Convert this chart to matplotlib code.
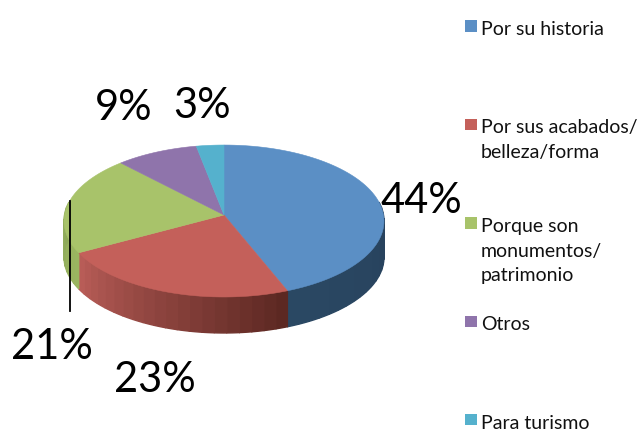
import numpy as np
import matplotlib
matplotlib.use("Agg")
import matplotlib.pyplot as plt
from matplotlib.patches import Polygon, Rectangle

categories = ["Por su historia", "Por sus acabados/\nbelleza/forma",
              "Porque son\nmonumentos/\npatrimonio", "Otros", "Para turismo"]
values = [44, 23, 21, 9, 3]
colors = ["#5b8fc5", "#c4605a", "#a8c36a", "#8f74ab", "#55b1cd"]
# side wall colours, (towards the left end, towards the right end) of each wedge
side_colors = [("#2a4863", "#27415c"), ("#b85c57", "#5c2822"), ("#8ea95a", "#9ab560"),
               ("#6f5a88", "#6f5a88"), ("#3f8ca3", "#3f8ca3")]

CX, CY = 224, 216
A, B, K = 159.5, 75.5, 0.079
DEPTH = 36

plt.rcParams['font.family'] = ['Lato', 'DejaVu Sans']


def rim(theta):
    # perspective view of the pie rim, theta clockwise from top in radians
    den = 1 + K * np.cos(theta)
    return CX + A * np.sin(theta) / den, CY - B * np.cos(theta) / den


def mix(c1, c2, t):
    a = np.array(matplotlib.colors.to_rgb(c1))
    b = np.array(matplotlib.colors.to_rgb(c2))
    return a + (b - a) * t


fig = plt.figure(figsize=(6.41, 4.31), dpi=100)
ax = fig.add_axes([0, 0, 1, 1])
ax.set_xlim(0, 641)
ax.set_ylim(431, 0)
ax.axis("off")

edges = np.cumsum([0] + values) / sum(values) * 2 * np.pi

# side wall, front half only
for i in range(len(values)):
    start = max(edges[i], np.radians(80))
    stop = min(edges[i + 1], np.radians(280))
    if stop <= start:
        continue
    n = max(2, int(np.degrees(stop - start) / 4))
    bands = np.linspace(start, stop, n + 1)
    for j in range(n):
        t = np.linspace(bands[j], bands[j + 1], 5)
        x, y = rim(t)
        pts = np.r_[np.c_[x, y], np.c_[x, y + DEPTH][::-1]]
        c = mix(side_colors[i][1], side_colors[i][0], j / max(1, n - 1))
        ax.add_patch(Polygon(pts, closed=True, fc=c, ec=c, lw=1.0, zorder=2))

# top face
for i in range(len(values)):
    t = np.linspace(edges[i], edges[i + 1], 80)
    x, y = rim(t)
    pts = np.r_[[[CX, CY]], np.c_[x, y]]
    ax.add_patch(Polygon(pts, closed=True, fc=colors[i], ec=colors[i], lw=0.4, zorder=3))

# data labels
label_pos = [(421, 201), (155, 380), (52, 347), (124, 108), (202, 106)]
for v, (lx, ly) in zip(values, label_pos):
    ax.text(lx, ly, "%d%%" % v, fontsize=30, color="black", ha="center", va="center", zorder=5)

# leader line of the 21% label
ax.plot([70, 70], [202, 312], color="black", lw=1.3, zorder=4)

# legend
for i, name in enumerate(categories):
    ly = 28 + i * 98.5
    ax.add_patch(Rectangle((465, ly - 7), 11.5, 11.5, fc=colors[i], ec="none", zorder=4))
    ax.text(481, ly - 7, name, fontsize=14, color="#111111", ha="left", va="top",
            linespacing=1.55, zorder=4)

fig.savefig("out.png", dpi=100)
